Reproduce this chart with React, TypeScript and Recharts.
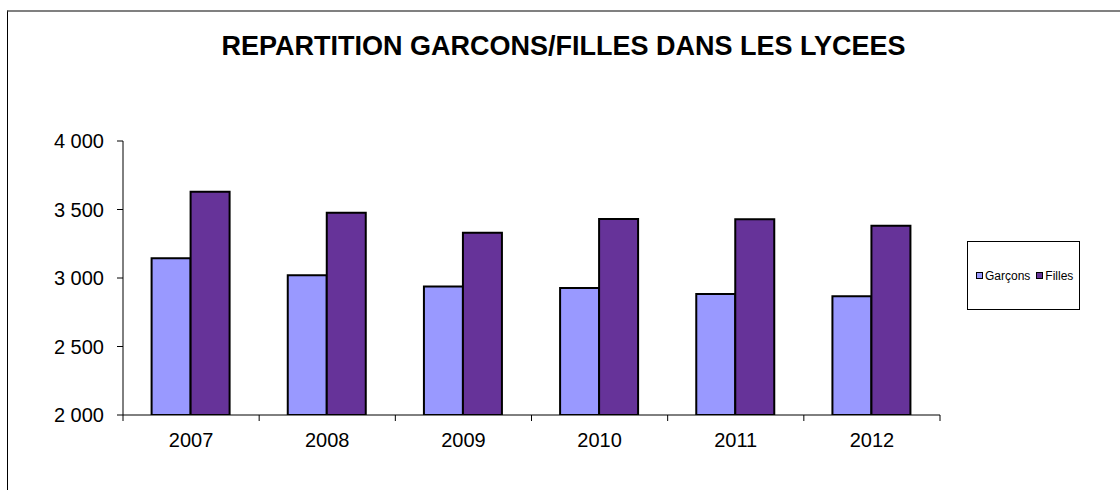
import React from "react";
import { BarChart, Bar, XAxis, YAxis, Legend } from "recharts";

const years = ["2007", "2008", "2009", "2010", "2011", "2012"];
const garcons = [3144, 3020, 2938, 2927, 2883, 2866];
const filles = [3630, 3477, 3331, 3431, 3428, 3382];
const yTicks = [2000, 2500, 3000, 3500, 4000];
const seriesNames = ["Garçons", "Filles"];
const seriesColors = ["#9999FF", "#663399"];
const title = "REPARTITION GARCONS/FILLES DANS LES LYCEES";

const data = years.map((y, i) => ({ year: y, g: garcons[i], f: filles[i] }));

const FONT = "Arial, 'Liberation Sans', sans-serif";

const fmt = (v: number) => {
  const th = Math.floor(v / 1000);
  const rest = String(v % 1000).padStart(3, "0");
  return `${th} ${rest}`;
};

const XTick = (props: any) => {
  const { x, y, payload, index } = props;
  const half = payload && payload.offset ? payload.offset : 68;
  const axisY = y - 6;
  return (
    <g>
      <line x1={x - half} x2={x - half} y1={axisY} y2={axisY + 6} stroke="#000" strokeWidth={1} />
      {index === years.length - 1 && (
        <line x1={x + half} x2={x + half} y1={axisY} y2={axisY + 6} stroke="#000" strokeWidth={1} />
      )}
      <text x={x} y={axisY + 32} textAnchor="middle" fontSize={20} fontFamily={FONT} fill="#000">
        {payload.value}
      </text>
    </g>
  );
};

const LegendBox = () => (
  <div
    style={{
      width: 113,
      height: 69,
      border: "1px solid #000",
      background: "#fff",
      display: "flex",
      alignItems: "center",
      justifyContent: "flex-start",
      paddingLeft: 8,
      boxSizing: "border-box",
      fontFamily: FONT,
      fontSize: 12,
      color: "#000",
      whiteSpace: "nowrap",
    }}
  >
    {seriesNames.map((n, i) => (
      <div key={n} style={{ display: "flex", alignItems: "center", marginRight: i === 0 ? 6 : 0 }}>
        <span
          style={{
            display: "inline-block",
            width: 5,
            height: 5,
            border: "1px solid #000",
            background: seriesColors[i],
            marginRight: 2,
          }}
        />
        <span>{n}</span>
      </div>
    ))}
  </div>
);

export default function App() {
  return (
    <div style={{ position: "absolute", left: 0, top: 0, width: 1120, height: 490, background: "#fff" }}>
      <div
        style={{
          position: "absolute",
          left: 7,
          top: 10,
          width: 1120,
          height: 490,
          borderTop: "2px solid #808080",
          borderLeft: "1px solid #000",
          boxSizing: "border-box",
        }}
      />
      <div
        style={{
          position: "absolute",
          left: 0,
          width: 1127,
          top: 31,
          textAlign: "center",
          fontFamily: FONT,
          fontWeight: "bold",
          fontSize: 27,
          lineHeight: "31px",
          color: "#000",
        }}
      >
        {title}
      </div>
      <div style={{ position: "absolute", left: 0, top: 0 }}>
        <BarChart
          width={1120}
          height={490}
          data={data}
          margin={{ top: 141, right: 180, bottom: 45, left: 0 }}
          barCategoryGap="21%"
          barGap={0}
        >
          <XAxis
            dataKey="year"
            height={30}
            stroke="#000"
            tickLine={false}
            tickSize={6}
            tickMargin={0}
            tick={<XTick />}
            interval={0}
          />
          <YAxis
            width={123}
            domain={[2000, 4000]}
            ticks={yTicks}
            allowDataOverflow
            stroke="#000"
            tickSize={6}
            tickMargin={13}
            tickFormatter={fmt}
            tick={{ fontSize: 20, fontFamily: FONT, fill: "#000" }}
          />
          <Legend
            layout="horizontal"
            verticalAlign="middle"
            align="center"
            content={<LegendBox />}
            wrapperStyle={{ left: 967, top: 241, width: 113, height: 69 }}
          />
          <Bar dataKey="g" name={seriesNames[0]} fill={seriesColors[0]} stroke="#000" strokeWidth={2} isAnimationActive={false} />
          <Bar dataKey="f" name={seriesNames[1]} fill={seriesColors[1]} stroke="#000" strokeWidth={2} isAnimationActive={false} />
        </BarChart>
      </div>
    </div>
  );
}
